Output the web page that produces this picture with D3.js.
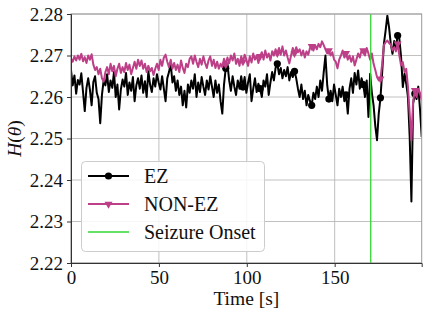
<!DOCTYPE html>
<html><head><meta charset="utf-8">
<script src="https://cdn.jsdelivr.net/npm/d3@7"></script>
<style>body{margin:0;background:#fff}svg{display:block}</style>
</head><body><svg id="c" width="429" height="317"></svg>
<script>
const timeStep = 0.978;
const onset = 170.5;
const markerStart = 90;
const markerEvery = 10;
const xTicks = [0, 50, 100, 150];
const yTicks = [2.22, 2.23, 2.24, 2.25, 2.26, 2.27, 2.28];
const seriesNames = ["EZ", "NON-EZ", "Seizure Onset"];
const ez = [
2.2665,2.2628,2.2652,2.2608,2.2641,2.2630,2.2657,2.2612,2.2566,2.2622,
2.2645,2.2618,2.2580,2.2636,2.2650,2.2610,2.2595,2.2537,2.2605,2.2640,
2.2628,2.2655,2.2612,2.2640,2.2622,2.2660,2.2600,2.2630,2.2570,2.2618,
2.2642,2.2625,2.2658,2.2605,2.2635,2.2615,2.2648,2.2590,2.2628,2.2645,
2.2620,2.2652,2.2610,2.2638,2.2600,2.2662,2.2630,2.2612,2.2645,2.2625,
2.2655,2.2635,2.2618,2.2650,2.2620,2.2590,2.2645,2.2660,2.2680,2.2635,
2.2650,2.2615,2.2640,2.2605,2.2625,2.2580,2.2615,2.2575,2.2630,2.2610,
2.2640,2.2620,2.2655,2.2600,2.2635,2.2612,2.2648,2.2625,2.2605,2.2640,
2.2618,2.2650,2.2625,2.2600,2.2640,2.2610,2.2630,2.2590,2.2560,2.2630,
2.2669,2.2680,2.2640,2.2615,2.2650,2.2625,2.2605,2.2640,2.2620,2.2650,
2.2624,2.2648,2.2610,2.2635,2.2655,2.2590,2.2620,2.2645,2.2612,2.2632,
2.2620,2.2600,2.2640,2.2625,2.2655,2.2605,2.2635,2.2660,2.2640,2.2670,
2.2680,2.2655,2.2670,2.2645,2.2665,2.2650,2.2672,2.2640,2.2660,2.2648,
2.2662,2.2645,2.2620,2.2600,2.2630,2.2595,2.2615,2.2580,2.2605,2.2590,
2.2580,2.2610,2.2595,2.2625,2.2600,2.2640,2.2615,2.2660,2.2700,2.2630,
2.2595,2.2615,2.2590,2.2630,2.2605,2.2580,2.2620,2.2600,2.2625,2.2590,
2.2605,2.2560,2.2620,2.2645,2.2610,2.2658,2.2630,2.2664,2.2620,2.2645,
2.2630,2.2600,2.2640,2.2552,2.2656,2.2610,2.2580,2.2530,2.2496,2.2560,
2.2598,2.2660,2.2728,2.2760,2.2796,2.2768,2.2728,2.2704,2.2735,2.2720,
2.2748,2.2740,2.2696,2.2624,2.2656,2.2632,2.2600,2.2504,2.2348,2.2584,
2.2608,2.2595,2.2625,2.2570,2.2504
];
const nonEz = [
2.2693,2.2685,2.2698,2.2688,2.2700,2.2690,2.2704,2.2686,2.2696,2.2682,
2.2700,2.2690,2.2703,2.2678,2.2665,2.2672,2.2655,2.2668,2.2645,2.2637,
2.2660,2.2672,2.2655,2.2680,2.2662,2.2675,2.2650,2.2668,2.2680,2.2658,
2.2672,2.2660,2.2682,2.2665,2.2678,2.2655,2.2670,2.2685,2.2668,2.2690,
2.2675,2.2688,2.2668,2.2680,2.2660,2.2675,2.2662,2.2670,2.2653,2.2668,
2.2680,2.2665,2.2690,2.2675,2.2695,2.2702,2.2685,2.2672,2.2690,2.2668,
2.2682,2.2665,2.2678,2.2660,2.2688,2.2670,2.2658,2.2680,2.2672,2.2692,
2.2698,2.2680,2.2700,2.2685,2.2672,2.2692,2.2678,2.2698,2.2682,2.2670,
2.2688,2.2698,2.2675,2.2690,2.2670,2.2685,2.2668,2.2680,2.2672,2.2692,
2.2678,2.2695,2.2682,2.2700,2.2688,2.2705,2.2680,2.2692,2.2675,2.2698,
2.2685,2.2702,2.2690,2.2675,2.2698,2.2683,2.2705,2.2690,2.2700,2.2682,
2.2698,2.2708,2.2690,2.2712,2.2695,2.2705,2.2688,2.2710,2.2700,2.2715,
2.2705,2.2718,2.2702,2.2722,2.2700,2.2712,2.2695,2.2681,2.2700,2.2718,
2.2705,2.2720,2.2708,2.2715,2.2700,2.2712,2.2695,2.2710,2.2702,2.2718,
2.2722,2.2712,2.2725,2.2715,2.2728,2.2720,2.2734,2.2725,2.2715,2.2705,
2.2712,2.2700,2.2708,2.2690,2.2685,2.2669,2.2690,2.2700,2.2712,2.2695,
2.2705,2.2690,2.2700,2.2685,2.2698,2.2676,2.2690,2.2705,2.2695,2.2712,
2.2712,2.2700,2.2718,2.2705,2.2690,2.2705,2.2680,2.2665,2.2648,2.2640,
2.2644,2.2680,2.2725,2.2732,2.2736,2.2730,2.2726,2.2712,2.2720,2.2710,
2.2728,2.2700,2.2676,2.2684,2.2660,2.2668,2.2624,2.2560,2.2496,2.2590,
2.2616,2.2600,2.2620,2.2610,2.2592
];
const colors = ["#000000", "#bd3f88", "#33d633"];
const FONT = "Liberation Serif";

const svg = d3.select("#c");
const L = 71, R = 421.7, T = 14, B = 263;
const x = d3.scaleLinear().domain([0, 199.5]).range([L, R]);
const y = d3.scaleLinear().domain([2.22, 2.28]).range([B, T]);

const g = svg.append("g");
g.selectAll(".gx").data(xTicks).join("line")
  .attr("x1", d => x(d)).attr("x2", d => x(d)).attr("y1", T).attr("y2", B)
  .attr("stroke", "#b0b0b0").attr("stroke-width", 0.8);
g.selectAll(".gy").data(yTicks).join("line")
  .attr("x1", L).attr("x2", R).attr("y1", d => y(d)).attr("y2", d => y(d))
  .attr("stroke", "#b0b0b0").attr("stroke-width", 0.8);

svg.append("defs").append("clipPath").attr("id", "clip")
  .append("rect").attr("x", L).attr("y", T).attr("width", R - L).attr("height", B - T);

const plot = svg.append("g").attr("clip-path", "url(#clip)");
const line = d3.line().x((d, i) => x(i * timeStep)).y(d => y(d));
const isMarker = i => i >= markerStart && i % markerEvery === 0;

plot.append("path").datum(ez).attr("d", line).attr("fill", "none")
  .attr("stroke", colors[0]).attr("stroke-width", 2).attr("stroke-linejoin", "round");
plot.selectAll(".ezm").data(ez.map((v, i) => [i, v]).filter(d => isMarker(d[0]))).join("circle")
  .attr("cx", d => x(d[0] * timeStep)).attr("cy", d => y(d[1])).attr("r", 3.6).attr("fill", colors[0]);

plot.append("path").datum(nonEz).attr("d", line).attr("fill", "none")
  .attr("stroke", colors[1]).attr("stroke-width", 2).attr("stroke-linejoin", "round");
const tri = d3.symbol().type(d3.symbolTriangle).size(28);
plot.selectAll(".nm").data(nonEz.map((v, i) => [i, v]).filter(d => isMarker(d[0]))).join("path")
  .attr("d", tri).attr("transform", d => `translate(${x(d[0] * timeStep)},${y(d[1])}) rotate(180)`)
  .attr("fill", colors[1]);

plot.append("line").attr("x1", x(onset)).attr("x2", x(onset)).attr("y1", T).attr("y2", B)
  .attr("stroke", colors[2]).attr("stroke-width", 1.3);

svg.append("rect").attr("x", L).attr("y", T).attr("width", R - L).attr("height", B - T)
  .attr("fill", "none").attr("stroke", "#999").attr("stroke-width", 1);

const xa = svg.append("g").attr("transform", `translate(0,${B})`)
  .call(d3.axisBottom(x).tickValues(xTicks).tickSize(4).tickPadding(3).tickFormat(d3.format("d")));
const ya = svg.append("g").attr("transform", `translate(${L},0)`)
  .call(d3.axisLeft(y).tickValues(yTicks).tickSize(4).tickPadding(4).tickFormat(d3.format(".2f")));
[xa, ya].forEach(a => {
  a.attr("font-family", FONT).attr("font-size", 19);
  a.selectAll("path").attr("stroke", "#333");
  a.selectAll("line").attr("stroke", "#333");
  a.selectAll("text").attr("font-size", 19).attr("fill", "#111").attr("font-family", FONT);
});
xa.selectAll("text").attr("dy", "0.76em");

svg.append("text").attr("x", (L + R) / 2).attr("y", 305).attr("text-anchor", "middle")
  .attr("font-family", FONT).attr("font-size", 19.5).attr("fill", "#111").text("Time [s]");
const yl = svg.append("text").attr("transform", `translate(21,${(T + B) / 2}) rotate(-90)`)
  .attr("text-anchor", "middle").attr("font-family", FONT).attr("font-size", 19.5).attr("fill", "#111");
yl.append("tspan").attr("font-style", "italic").text("H");
yl.append("tspan").text("(");
yl.append("tspan").attr("font-style", "italic").text("θ");
yl.append("tspan").text(")");

const lg = svg.append("g");
lg.append("rect").attr("x", 81.5).attr("y", 161.5).attr("width", 183).attr("height", 90)
  .attr("rx", 4).attr("fill", "#fff").attr("fill-opacity", 0.85).attr("stroke", "#ccc");
const ly = [176, 204, 232];
seriesNames.forEach((name, i) => {
  lg.append("line").attr("x1", 88).attr("x2", 129).attr("y1", ly[i]).attr("y2", ly[i])
    .attr("stroke", colors[i]).attr("stroke-width", i === 2 ? 1.6 : 2);
  if (i === 0) lg.append("circle").attr("cx", 108.5).attr("cy", ly[i]).attr("r", 3.6).attr("fill", colors[0]);
  if (i === 1) lg.append("path").attr("d", tri).attr("transform", `translate(108.5,${ly[i]}) rotate(180)`).attr("fill", colors[1]);
  lg.append("text").attr("x", 144).attr("y", ly[i]).attr("dy", "0.35em").attr("font-family", FONT)
    .attr("font-size", 20).attr("fill", "#111").text(name);
});
</script></body></html>
